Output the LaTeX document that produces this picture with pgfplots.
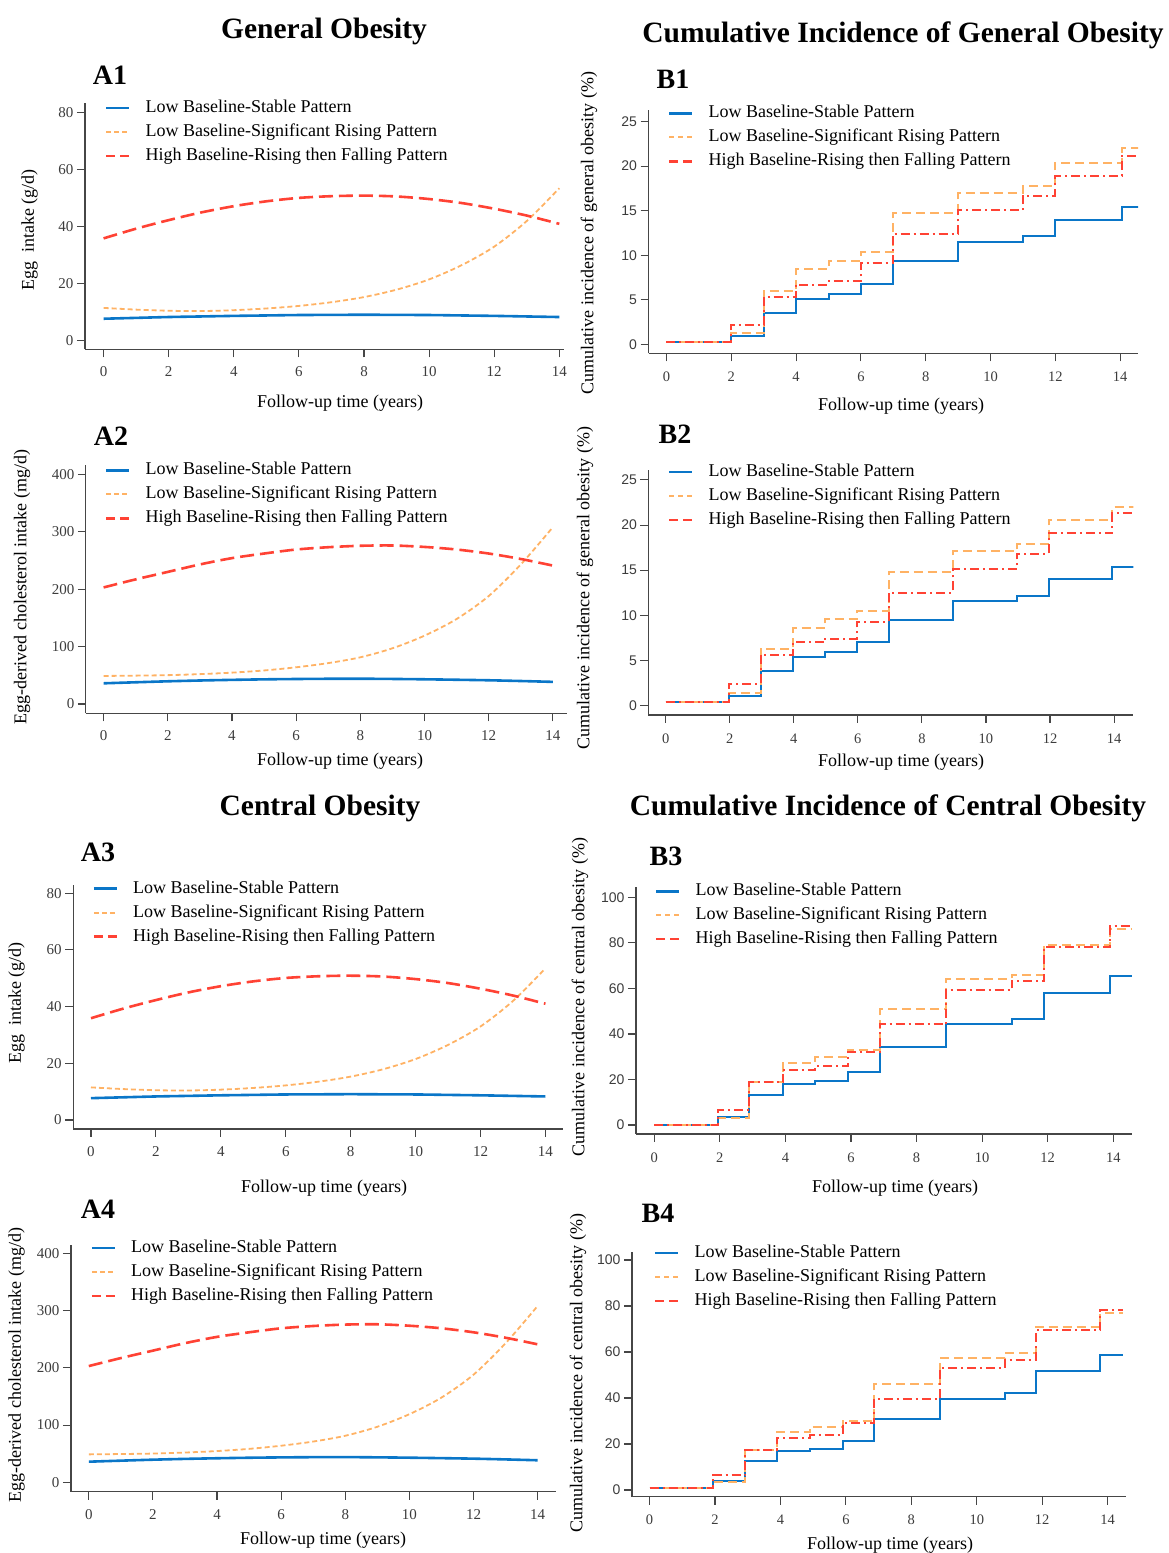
\documentclass[border=0pt]{standalone}
\usepackage{fontspec}
\setmainfont{Liberation Serif}
\setsansfont{Liberation Sans}
\usepackage{pgfplots}
\pgfplotsset{compat=1.18}
\definecolor{blueC}{RGB}{10,118,200}
\definecolor{orangeC}{RGB}{255,178,100}
\definecolor{redC}{RGB}{255,66,52}
\definecolor{axgray}{RGB}{70,70,70}
\definecolor{tkgray}{RGB}{60,60,60}
\newcommand{\titlefont}{\fontsize{29.5}{32}\selectfont\bfseries}
\newcommand{\panelfont}{\fontsize{28}{30}\selectfont\bfseries}
\newcommand{\labfont}{\fontsize{18}{20}\selectfont}
\pgfplotsset{
  panel/.style={
    scale only axis, anchor=south west,
    axis lines=left,
    axis line style={-, draw=axgray, line width=1.2pt},
    tick align=outside, major tick length=8pt,
    tick style={draw=axgray, line width=1.1pt},
    xtick={0,2,...,14}, scaled ticks=false,
    tick label style={font=\fontsize{15}{15}\selectfont, text=tkgray},
    xticklabel style={yshift=-6pt},
    /pgf/number format/assume math mode=true,
    legend cell align=left,
    legend style={anchor=north west, draw=none, fill=none, inner sep=0pt, outer sep=0pt,
      font=\labfont, row sep=7pt,
      nodes={inner sep=0pt, text height=13pt, text depth=4pt},
      /tikz/every odd column/.append style={column sep=15pt}},
    legend image code/.code={\draw[##1] (0pt,0pt) -- (23pt,0pt);},
  },
  panelB/.style={panel,
    yticklabel style={font=\sffamily\fontsize{14}{14}\selectfont},
    xticklabel style={font=\fontsize{14.5}{14.5}\selectfont, yshift=-1pt}},
  blueA/.style={draw=blueC, line width=2.6pt, smooth},
  orangeA/.style={draw=orangeC, line width=1.8pt, dash pattern=on 5pt off 3pt, smooth},
  redA/.style={draw=redC, line width=2.6pt, dash pattern=on 14pt off 6pt, smooth,
     legend image post style={dash pattern=on 9pt off 5pt}},
  blueB/.style={draw=blueC, line width=2pt, const plot, legend image post style={line width=2.6pt}},
  orangeB/.style={draw=orangeC, line width=2pt, dash pattern=on 9pt off 5pt, const plot,
     legend image post style={dash pattern=on 5pt off 4pt}},
  redB/.style={draw=redC, line width=2pt, dash pattern=on 9pt off 4pt on 2pt off 4pt, const plot,
     legend image post style={dash pattern=on 9pt off 5pt, line width=2.4pt}},
}
\pgfplotstableread{
x blue orange red
0 7.7 11.5 35.9
1 8.0 10.9 39.3
2 8.3 10.5 42.3
3 8.5 10.4 45.0
4 8.7 10.7 47.2
5 8.85 11.3 48.9
6 9.0 12.2 50.1
7 9.05 13.5 50.7
8 9.1 15.3 50.9
9 9.05 17.9 50.6
10 9.0 21.5 49.7
11 8.85 26.5 48.3
12 8.7 33.0 46.3
13 8.5 42.0 43.9
14 8.3 53.5 41.0
}\eggtab
\pgfplotstableread{
x blue orange red
0 36 48.8 203
1 37.8 49.4 217
2 39.5 50.2 230
3 40.9 52.0 243
4 42 54.6 254
5 42.9 58.4 262
6 43.5 63.9 269
7 43.9 71.2 273
8 44 81.3 275.5
9 43.6 97 276
10 43 119 273.5
11 42.2 148 269
12 41.3 188 262
13 40.0 243 252.5
14 38.5 308 241
}\choltab
\begin{document}
\begin{tikzpicture}
\useasboundingbox (0,0) rectangle (1169pt,1553pt);
% titles
\node[font=\titlefont] at (324pt,1522pt) {General Obesity};
\node[font=\titlefont] at (903pt,1518pt) {Cumulative Incidence of General Obesity};
\node[font=\titlefont] at (320pt,745pt) {Central Obesity};
\node[font=\titlefont] at (888pt,745pt) {Cumulative Incidence of Central Obesity};
% panel labels
\node[font=\panelfont] at (110pt,1478pt) {A1};
\node[font=\panelfont] at (673pt,1474pt) {B1};
\node[font=\panelfont] at (111pt,1117pt) {A2};
\node[font=\panelfont] at (675pt,1119pt) {B2};
\node[font=\panelfont] at (98pt,701pt) {A3};
\node[font=\panelfont] at (666pt,697pt) {B3};
\node[font=\panelfont] at (98pt,344pt) {A4};
\node[font=\panelfont] at (658pt,340pt) {B4};
% x labels
\foreach \xx/\yy in {340/1150,340/792,324/365,323/13,901/1147,901/791,895/365,890/8}
  \node[font=\labfont] at (\xx pt,\yy pt) {Follow-up time (years)};
% y labels
\node[font=\labfont, rotate=90] at (29.6pt,1323pt) {Egg\ \ intake (g/d)};
\node[font=\labfont, rotate=90] at (22pt,966pt) {Egg-derived cholesterol intake (mg/d)};
\node[font=\labfont, rotate=90] at (16.6pt,550pt) {Egg\ \ intake (g/d)};
\node[font=\labfont, rotate=90] at (16.6pt,188pt) {Egg-derived cholesterol intake (mg/d)};
\node[font=\labfont, rotate=90] at (589pt,1320pt) {Cumulative incidence of general obesity (\%)};
\node[font=\labfont, rotate=90] at (585pt,965pt) {Cumulative incidence of general obesity (\%)};
\node[font=\labfont, rotate=90] at (580pt,556pt) {Cumulative incidence of central obesity (\%)};
\node[font=\labfont, rotate=90] at (578pt,180pt) {Cumulative incidence of central obesity (\%)};

% ---------- A1
\begin{axis}[panel, at={(85pt,1203.7pt)}, width=479pt, height=246pt,
  xmin=-0.571, xmax=14.144, ymin=-3.02, ymax=83.3, ytick={0,20,...,80},
  legend style={at={(0.0418,1.016)}}]
\addplot[blueA] table[x=x,y=blue]{\eggtab}; \addlegendentry{Low Baseline-Stable Pattern}
\addplot[orangeA] table[x=x,y=orange]{\eggtab}; \addlegendentry{Low Baseline-Significant Rising Pattern}
\addplot[redA] table[x=x,y=red]{\eggtab}; \addlegendentry{High Baseline-Rising then Falling Pattern}
\end{axis}
% ---------- A2
\begin{axis}[panel, at={(85.8pt,839.7pt)}, width=480.9pt, height=248.3pt,
  xmin=-0.554, xmax=14.43, ymin=-16.2, ymax=416.2, ytick={0,100,...,400},
  legend style={at={(0.040,1.013)}}]
\addplot[blueA] table[x=x,y=blue]{\choltab}; \addlegendentry{Low Baseline-Stable Pattern}
\addplot[orangeA] table[x=x,y=orange]{\choltab}; \addlegendentry{Low Baseline-Significant Rising Pattern}
\addplot[redA] table[x=x,y=red]{\choltab}; \addlegendentry{High Baseline-Rising then Falling Pattern}
\end{axis}
% ---------- A3
\begin{axis}[panel, at={(73.2pt,424pt)}, width=489.8pt, height=244pt,
  xmin=-0.548, xmax=14.54, ymin=-3.18, ymax=82.9, ytick={0,20,...,80},
  legend style={at={(0.0394,1.020)}}]
\addplot[blueA] table[x=x,y=blue]{\eggtab}; \addlegendentry{Low Baseline-Stable Pattern}
\addplot[orangeA] table[x=x,y=orange]{\eggtab}; \addlegendentry{Low Baseline-Significant Rising Pattern}
\addplot[redA] table[x=x,y=red]{\eggtab}; \addlegendentry{High Baseline-Rising then Falling Pattern}
\end{axis}
% ---------- A4
\begin{axis}[panel, at={(71pt,61.3pt)}, width=484.6pt, height=246.7pt,
  xmin=-0.555, xmax=14.56, ymin=-16.4, ymax=414.5, ytick={0,100,...,400},
  legend style={at={(0.0404,1.023)}}]
\addplot[blueA] table[x=x,y=blue]{\choltab}; \addlegendentry{Low Baseline-Stable Pattern}
\addplot[orangeA] table[x=x,y=orange]{\choltab}; \addlegendentry{Low Baseline-Significant Rising Pattern}
\addplot[redA] table[x=x,y=red]{\choltab}; \addlegendentry{High Baseline-Rising then Falling Pattern}
\end{axis}
% ---------- B1
\begin{axis}[panelB, at={(648.5pt,1199.7pt)}, width=489.5pt, height=243.3pt,
  xmin=-0.555, xmax=14.55, ymin=-1.01, ymax=26.3, ytick={0,5,...,25},
  legend style={at={(0.0398,1.0206)}}]
\addplot[blueB] coordinates {(0,0.3)(2,0.95)(3,3.5)(4,5.1)(5,5.6)(6,6.8)(7,9.4)(9,11.5)(11,12.1)(12,13.9)(14.05,15.4)(14.73,15.4)};
\addlegendentry{Low Baseline-Stable Pattern}
\addplot[orangeB] coordinates {(0,0.3)(2,1.3)(3,6.0)(4,8.4)(5,9.4)(6,10.35)(7,14.7)(9,17.0)(11,17.75)(12,20.4)(14.05,22.0)(14.75,22.0)};
\addlegendentry{Low Baseline-Significant Rising Pattern}
\addplot[redB] coordinates {(0,0.3)(2,2.2)(3,5.35)(4,6.7)(5,7.1)(6,9.15)(7,12.4)(9,15.05)(11,16.7)(12,18.9)(14.05,21.1)(14.75,21.1)};
\addlegendentry{High Baseline-Rising then Falling Pattern}
\end{axis}
% ---------- B2
\begin{axis}[panelB, at={(648.4pt,838pt)}, width=484.9pt, height=245pt,
  xmin=-0.54, xmax=14.6, ymin=-1.03, ymax=26.1, ytick={0,5,...,25},
  legend style={at={(0.0404,1.0257)}}]
\addplot[blueB] coordinates {(0,0.4)(1.97,1.1)(2.97,3.8)(3.97,5.4)(4.97,5.9)(5.97,7.1)(6.97,9.5)(8.97,11.6)(10.97,12.2)(11.97,14.0)(13.95,15.4)(14.65,15.4)};
\addlegendentry{Low Baseline-Stable Pattern}
\addplot[orangeB] coordinates {(0,0.4)(1.97,1.4)(2.97,6.3)(3.97,8.6)(4.97,9.6)(5.97,10.5)(6.97,14.8)(8.97,17.1)(10.97,17.9)(11.97,20.6)(13.95,22.0)(14.65,22.0)};
\addlegendentry{Low Baseline-Significant Rising Pattern}
\addplot[redB] coordinates {(0,0.4)(1.97,2.45)(2.97,5.65)(3.97,7.0)(4.97,7.4)(5.97,9.3)(6.97,12.5)(8.97,15.1)(10.97,16.85)(11.97,19.1)(13.95,21.3)(14.65,21.3)};
\addlegendentry{High Baseline-Rising then Falling Pattern}
\end{axis}
% ---------- B3
\begin{axis}[panelB, at={(635.9pt,419pt)}, width=496.1pt, height=247.3pt,
  xmin=-0.558, xmax=14.57, ymin=-3.95, ymax=104.7, ytick={0,20,...,100},
  legend style={at={(0.0385,1.016)}}]
\addplot[blueB] coordinates {(0,0)(1.95,3.5)(2.9,13.3)(3.92,17.8)(4.9,19.2)(5.92,23.5)(6.9,34.3)(8.9,44.2)(10.9,46.7)(11.9,57.8)(13.9,65.3)(14.57,65.3)};
\addlegendentry{Low Baseline-Stable Pattern}
\addplot[orangeB] coordinates {(0,0)(1.95,3.0)(2.9,18.8)(3.92,27.3)(4.9,30.0)(5.92,33.0)(6.9,51.0)(8.9,64.2)(10.9,66.0)(11.9,79.2)(13.9,85.9)(14.57,85.9)};
\addlegendentry{Low Baseline-Significant Rising Pattern}
\addplot[redB] coordinates {(0,0)(1.95,6.7)(2.9,18.7)(3.92,24.3)(4.9,26.0)(5.92,32.0)(6.9,44.2)(8.9,59.1)(10.9,63.2)(11.9,78.2)(13.9,87.3)(14.57,87.3)};
\addlegendentry{High Baseline-Rising then Falling Pattern}
\end{axis}
% ---------- B4
\begin{axis}[panelB, at={(632pt,56.3pt)}, width=493.6pt, height=245pt,
  xmin=-0.538, xmax=14.55, ymin=-2.9, ymax=103.6, ytick={0,20,...,100},
  legend style={at={(0.0446,1.030)}}]
\addplot[blueB] coordinates {(0,1.0)(1.94,3.8)(2.93,12.7)(3.9,16.8)(4.9,18.0)(5.9,21.5)(6.87,31.0)(8.87,39.6)(10.85,42.2)(11.8,51.7)(13.78,58.5)(14.47,58.5)};
\addlegendentry{Low Baseline-Stable Pattern}
\addplot[orangeB] coordinates {(0,1.0)(1.94,3.5)(2.93,17.6)(3.9,25.2)(4.9,27.5)(5.9,30.0)(6.87,45.9)(8.87,57.3)(10.85,59.4)(11.8,71.0)(13.78,77.0)(14.47,77.0)};
\addlegendentry{Low Baseline-Significant Rising Pattern}
\addplot[redB] coordinates {(0,1.0)(1.94,6.6)(2.93,17.6)(3.9,22.8)(4.9,24.0)(5.9,29.0)(6.87,39.6)(8.87,53.0)(10.85,56.6)(11.8,69.5)(13.78,78.2)(14.47,78.2)};
\addlegendentry{High Baseline-Rising then Falling Pattern}
\end{axis}
\end{tikzpicture}
\end{document}
